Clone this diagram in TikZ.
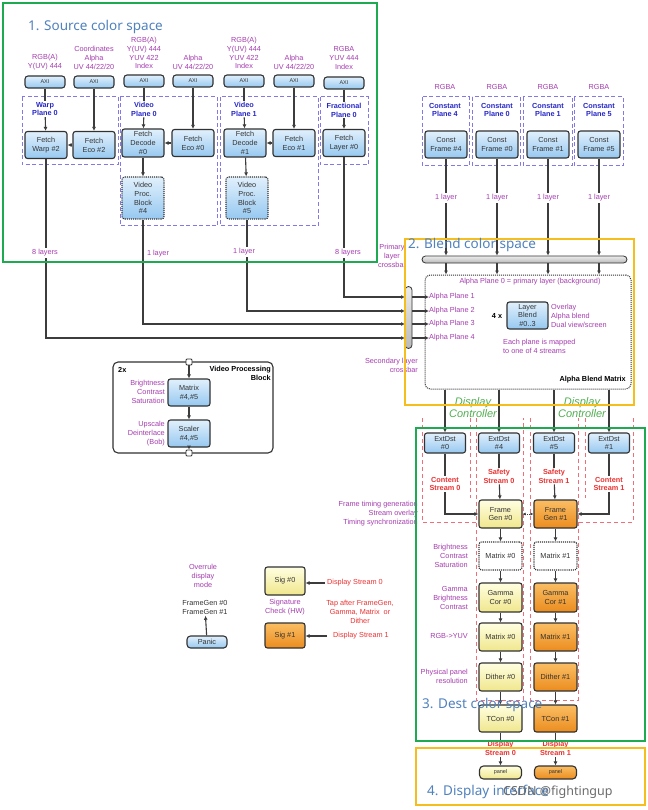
\documentclass[tikz,border=0pt]{standalone}
\usepackage{fontspec}
\setmainfont{Liberation Sans}
\newfontfamily\titlefont{Noto Sans}
\usetikzlibrary{arrows.meta}
\definecolor{pur}{RGB}{165,60,175}
\definecolor{bluet}{RGB}{40,40,200}
\definecolor{grpc}{RGB}{130,120,230}
\definecolor{redt}{RGB}{235,50,50}
\definecolor{redd}{RGB}{240,110,120}
\definecolor{ttl}{RGB}{80,130,190}
\definecolor{grn}{RGB}{30,170,80}
\definecolor{gld}{RGB}{245,190,30}
\definecolor{dcg}{RGB}{80,175,80}
\definecolor{bdr}{RGB}{50,50,50}
\definecolor{lnc}{RGB}{60,60,60}
\definecolor{blueT}{RGB}{225,240,252}
\definecolor{blueB}{RGB}{150,200,240}
\definecolor{yelT}{RGB}{255,255,225}
\definecolor{yelB}{RGB}{240,230,140}
\definecolor{oraT}{RGB}{250,190,100}
\definecolor{oraB}{RGB}{235,140,30}
\newcommand\sz{\fontsize{7.3}{8.9}\selectfont}
\newcommand\ttsz{\titlefont\fontsize{13.5}{15}\selectfont}
\begin{document}
\begin{tikzpicture}[x=1pt,y=-1pt,
  box/.style={draw=bdr,line width=1.1pt,rounded corners=2.5pt,minimum width=42pt,minimum height=27pt,inner sep=0pt,align=center,font=\sz,text=black!80},
  bb/.style={box,top color=blueT,bottom color=blueB},
  yb/.style={box,top color=yelT,bottom color=yelB},
  ob/.style={box,top color=oraT,bottom color=oraB},
  wb/.style={box,fill=white,densely dotted},
  axi/.style={bb,minimum width=40pt,minimum height=12pt,rounded corners=3pt,font=\fontsize{5.5}{6}\selectfont},
  grp/.style={draw=grpc,line width=1pt,dash pattern=on 4pt off 2.5pt},
  lab/.style={font=\sz,text=pur,align=center,inner sep=0pt},
  blab/.style={font=\sz\bfseries,text=bluet,align=center,inner sep=1pt},
  rlab/.style={font=\sz\bfseries,text=redt,align=center,inner sep=1pt},
  con/.style={draw=lnc,line width=1.1pt},
  arr/.style={con,-{Latex[length=4pt,width=4pt]}},
  rd/.style={draw=redd,line width=0.9pt,dash pattern=on 4pt off 3pt},
  frm/.style={line width=2.4pt},
  bar/.style={draw=gray!40!black,line width=0.8pt,top color=gray!15,bottom color=gray!55,rounded corners=3.5pt,inner sep=0pt}]
\useasboundingbox (0,0) rectangle (647,810);
\fill[white] (0,0) rectangle (647,810);

% ---------- source groups ----------
\draw[grp] (22,97) rectangle (118,165);
\draw[grp] (120,97) rectangle (217,226);
\draw[grp] (220,97) rectangle (318,226);
\draw[grp] (320,97) rectangle (368,165);

\node[lab] (l1) at (45,62) {RGB(A)\\Y(UV) 444};
\node[lab] (l2) at (94,58) {Coordinates\\Alpha\\UV 44/22/20};
\node[lab] (l3) at (144,53) {RGB(A)\\Y(UV) 444\\YUV 422\\Index};
\node[lab] (l4) at (193,62) {Alpha\\UV 44/22/20};
\node[lab] (l5) at (244,53) {RGB(A)\\Y(UV) 444\\YUV 422\\Index};
\node[lab] (l6) at (294,62) {Alpha\\UV 44/22/20};
\node[lab] (l7) at (344,58) {RGBA\\YUV 444\\Index};

\node[axi] (a1) at (45,82) {AXI};
\node[axi] (a2) at (94,82) {AXI};
\node[axi] (a3) at (144,81) {AXI};
\node[axi] (a4) at (193,81) {AXI};
\node[axi] (a5) at (244,81) {AXI};
\node[axi] (a6) at (294,81) {AXI};
\node[axi] (a7) at (344,83) {AXI};

\node[blab] (p1) at (45,109) {Warp\\Plane 0};
\node[blab] (p3) at (144,109) {Video\\Plane 0};
\node[blab] (p5) at (244,109) {Video\\Plane 1};
\node[blab] (p7) at (344,110) {Fractional\\Plane 0};

\node[bb] (fw) at (46,145) {Fetch\\Warp \#2};
\node[bb] (fe2) at (94,145) {Fetch\\Eco \#2};
\node[bb,minimum height=28pt] (fd0) at (143,143) {Fetch\\Decode\\\#0};
\node[bb] (fe0) at (193,143) {Fetch\\Eco \#0};
\node[bb,minimum height=28pt] (fd1) at (245,143) {Fetch\\Decode\\\#1};
\node[bb] (fe1) at (294,143) {Fetch\\Eco \#1};
\node[bb] (fl0) at (344,143) {Fetch\\Layer \#0};
\node[bb,densely dotted,minimum height=42pt] (vp4) at (143,198) {Video\\Proc.\\Block\\\#4};
\node[bb,densely dotted,minimum height=42pt] (vp5) at (247,198) {Video\\Proc.\\Block\\\#5};

\draw[con] (a1) -- (p1); \draw[arr] (p1) -- (fw);
\draw[con] (a3) -- (p3); \draw[arr] (p3) -- (fd0);
\draw[con] (a5) -- (p5); \draw[arr] (p5) -- (fd1);
\draw[con] (a7) -- (p7); \draw[arr] (p7) -- (fl0);
\draw[arr] (a2) -- (fe2);
\draw[arr] (a4) -- (fe0);
\draw[arr] (a6) -- (fe1);
\draw[arr] (fe2) -- (fw);
\draw[arr] (fe0) -- (fd0);
\draw[arr] (fe1) -- (fd1);
\draw[arr] (fd0) -- (vp4);
\draw[arr] (fd1) -- (vp5);

% ---------- secondary crossbar ----------
\node[bar,minimum width=7pt,minimum height=62pt] (xbar) at (408.5,317.5) {};
\coordinate (c1) at (405,338);
\coordinate (c2) at (405,324);
\coordinate (c3) at (405,311);
\coordinate (c4) at (405,297);
\draw[arr] (fw) |- (c1);
\draw[arr] (vp4) |- (c2);
\draw[arr] (vp5) |- (c3);
\draw[arr] (fl0) |- (c4);
\node[lab,fill=white,inner sep=1.5pt] (n1) at (45,253) {8 layers};
\node[lab] (n2) at (158,254) {1 layer};
\node[lab,fill=white,inner sep=1.5pt] (n3) at (244,252) {1 layer};
\node[lab,fill=white,inner sep=1.5pt] (n4) at (348,253) {8 layers};

% ---------- constant planes ----------
\draw[grp] (422,97) rectangle (469,166);
\draw[grp] (472,97) rectangle (520,166);
\draw[grp] (523,97) rectangle (572,166);
\draw[grp] (574,97) rectangle (623,166);
\node[lab] (r4) at (445,87) {RGBA};
\node[lab] (r0) at (497,87) {RGBA};
\node[lab] (r1) at (548,87) {RGBA};
\node[lab] (r5) at (599,87) {RGBA};
\node[blab] (cp4) at (445,110) {Constant\\Plane 4};
\node[blab] (cp0) at (497,110) {Constant\\Plane 0};
\node[blab] (cp1) at (548,110) {Constant\\Plane 1};
\node[blab] (cp5) at (599,110) {Constant\\Plane 5};
\node[bb] (cf4) at (446,144.5) {Const\\Frame \#4};
\node[bb] (cf0) at (497,144.5) {Const\\Frame \#0};
\node[bb] (cf1) at (548,144.5) {Const\\Frame \#1};
\node[bb] (cf5) at (599,144.5) {Const\\Frame \#5};

\node[bar,minimum width=205pt,minimum height=7pt] (pbar) at (524.5,259.5) {};
\draw[arr] (cf4) -- (cf4 |- pbar.north);
\draw[arr] (cf0) -- (cf0 |- pbar.north);
\draw[arr] (cf1) -- (cf1 |- pbar.north);
\draw[arr] (cf5) -- (cf5 |- pbar.north);
\node[lab,fill=white,inner sep=1.5pt] (k4) at (446,198) {1 layer};
\node[lab,fill=white,inner sep=1.5pt] (k0) at (497,198) {1 layer};
\node[lab,fill=white,inner sep=1.5pt] (k1) at (548,198) {1 layer};
\node[lab,fill=white,inner sep=1.5pt] (k5) at (599,198) {1 layer};

% ---------- alpha blend matrix ----------
\node[draw=bdr,line width=1pt,densely dotted,rounded corners=5pt,minimum width=206pt,minimum height=114pt,inner sep=0pt] (abm) at (528,332) {};
\draw[arr] (cf4 |- pbar.south) -- (cf4 |- abm.north);
\draw[arr] (cf0 |- pbar.south) -- (cf0 |- abm.north);
\draw[arr] (cf1 |- pbar.south) -- (cf1 |- abm.north);
\draw[arr] (cf5 |- pbar.south) -- (cf5 |- abm.north);
\node[lab] (ap0) at (530,282) {Alpha Plane 0 = primary layer (background)};
\node[lab,anchor=west] (ap1) at (429,297) {Alpha Plane 1};
\node[lab,anchor=west] (ap2) at (429,311) {Alpha Plane 2};
\node[lab,anchor=west] (ap3) at (429,324) {Alpha Plane 3};
\node[lab,anchor=west] (ap4) at (429,338) {Alpha Plane 4};
\draw[arr] (xbar.east |- ap1) -- (ap1.west);
\draw[arr] (xbar.east |- ap2) -- (ap2.west);
\draw[arr] (xbar.east |- ap3) -- (ap3.west);
\draw[arr] (xbar.east |- ap4) -- (ap4.west);
\node[font=\sz\bfseries,inner sep=0pt] (fx) at (497,316) {4 x};
\node[bb,minimum width=41pt] (lb) at (527.5,315.5) {Layer\\Blend\\\#0..3};
\node[lab,anchor=west,align=left] (ov) at (551,315.5) {Overlay\\Alpha blend\\Dual view/screen};
\node[lab,anchor=west,align=left] (ep) at (503,346) {Each plane is mapped\\to one of 4 streams};
\node[font=\sz\bfseries,inner sep=0pt,anchor=east] (abt) at (626,380) {Alpha Blend Matrix};
\node[lab] (plc) at (392,256) {Primary\\layer\\crossbar};
\node[lab,anchor=east,align=right] (slc) at (418,365.5) {Secondary layer\\crossbar};

% ---------- display controller ----------
\node[bb,minimum width=41pt,minimum height=20pt] (e0) at (445,443) {ExtDst\\\#0};
\node[bb,minimum width=41pt,minimum height=20pt] (e4) at (499,443) {ExtDst\\\#4};
\node[bb,minimum width=41pt,minimum height=20pt] (e5) at (554,443) {ExtDst\\\#5};
\node[bb,minimum width=41pt,minimum height=20pt] (e1) at (609,443) {ExtDst\\\#1};
\draw[arr] (e0 |- abm.south) -- (e0);
\draw[arr] (e4 |- abm.south) -- (e4);
\draw[arr] (e5 |- abm.south) -- (e5);
\draw[arr] (e1 |- abm.south) -- (e1);
\node[font=\fontsize{11}{12}\selectfont\itshape,text=dcg,align=center,inner sep=0pt] (dc1) at (473,408) {Display\\Controller};
\node[font=\fontsize{11}{12}\selectfont\itshape,text=dcg,align=center,inner sep=0pt] (dc2) at (582,408) {Display\\Controller};

% red dashed stream columns
\draw[rd] (422,418) -- (422,522) -- (476,522);
\draw[rd] (470,418) -- (470,498);
\draw[rd] (476,418) -- (476,700) -- (523,700) -- (523,418);
\draw[rd] (530,418) -- (530,700) -- (578,700) -- (578,418);
\draw[rd] (585,418) -- (585,498);
\draw[rd] (633,418) -- (633,522) -- (578,522);

\node[rlab] (s0) at (445,484) {Content\\Stream 0};
\node[rlab] (ss0) at (499,476) {Safety\\Stream 0};
\node[rlab] (ss1) at (554,476) {Safety\\Stream 1};
\node[rlab] (s1) at (609,484) {Content\\Stream 1};

\node[yb,minimum width=43pt,minimum height=28pt] (fg0) at (500.5,514) {Frame\\Gen \#0};
\node[ob,minimum width=43pt,minimum height=28pt] (fg1) at (555.5,514) {Frame\\Gen \#1};
\draw[con] (e0) -- (s0); \draw[arr] (s0) |- (fg0);
\draw[con] (e4) -- (ss0); \draw[arr] (ss0) -- (fg0);
\draw[con] (e5) -- (ss1); \draw[arr] (ss1) -- (fg1);
\draw[con] (e1) -- (s1); \draw[arr] (s1) |- (fg1);
\draw[draw=lnc,line width=0.8pt,densely dotted,{Latex[length=3pt,width=3pt]}-{Latex[length=3pt,width=3pt]}] (fg0) -- (fg1);

\node[wb,minimum width=43pt,minimum height=28pt] (m0) at (500.5,556) {Matrix \#0};
\node[wb,minimum width=43pt,minimum height=28pt] (m1) at (555.5,556) {Matrix \#1};
\node[yb,minimum width=43pt,minimum height=29pt] (gc0) at (500.5,597.5) {Gamma\\Cor \#0};
\node[ob,minimum width=43pt,minimum height=29pt] (gc1) at (555.5,597.5) {Gamma\\Cor \#1};
\node[yb,minimum width=43pt,minimum height=28pt] (mm0) at (500.5,637) {Matrix \#0};
\node[ob,minimum width=43pt,minimum height=28pt] (mm1) at (555.5,637) {Matrix \#1};
\node[yb,minimum width=43pt,minimum height=28pt] (d0) at (500.5,677) {Dither \#0};
\node[ob,minimum width=43pt,minimum height=28pt] (d1) at (555.5,677) {Dither \#1};
\node[yb,minimum width=43pt,minimum height=27pt] (t0) at (500.5,718.5) {TCon \#0};
\node[ob,minimum width=43pt,minimum height=27pt] (t1) at (555.5,718.5) {TCon \#1};
\draw[arr] (fg0) -- (m0); \draw[arr] (m0) -- (gc0); \draw[arr] (gc0) -- (mm0); \draw[arr] (mm0) -- (d0); \draw[arr] (d0) -- (t0);
\draw[arr] (fg1) -- (m1); \draw[arr] (m1) -- (gc1); \draw[arr] (gc1) -- (mm1); \draw[arr] (mm1) -- (d1); \draw[arr] (d1) -- (t1);

\node[lab,anchor=east,align=right] (ftg) at (418,514) {Frame timing generation\\Stream overlay\\Timing synchronization};
\node[lab,anchor=east,align=right] (bcs) at (468,556) {Brightness\\Contrast\\Saturation};
\node[lab,anchor=east,align=right] (gbc) at (468,598) {Gamma\\Brightness\\Contrast};
\node[lab,anchor=east,align=right] (ryv) at (468,636) {RGB->YUV};
\node[lab,anchor=east,align=right] (ppr) at (468,676.5) {Physical panel\\resolution};

% ---------- display interface ----------
\node[rlab] (ds0) at (500.5,748.5) {Display\\Stream 0};
\node[rlab] (ds1) at (555.5,748.5) {Display\\Stream 1};
\node[yb,minimum width=42pt,minimum height=13pt,rounded corners=4pt,font=\fontsize{5.5}{6}\selectfont] (pn0) at (500.5,772.5) {panel};
\node[ob,minimum width=42pt,minimum height=13pt,rounded corners=4pt,font=\fontsize{5.5}{6}\selectfont] (pn1) at (555.5,772.5) {panel};
\draw[con] (t0) -- (ds0); \draw[arr] (ds0) -- (pn0);
\draw[con] (t1) -- (ds1); \draw[arr] (ds1) -- (pn1);

% ---------- video processing block ----------
\node[draw=bdr,line width=1.1pt,rounded corners=5pt,minimum width=160pt,minimum height=91pt,inner sep=0pt] (vpb) at (193,407.5) {};
\node[draw=bdr,line width=0.8pt,fill=white,minimum size=6pt,inner sep=0pt,rounded corners=1pt] (pt) at (189,362) {};
\node[draw=bdr,line width=0.8pt,fill=white,minimum size=6pt,inner sep=0pt,rounded corners=1pt] (pb) at (189,453) {};
\node[font=\sz\bfseries,anchor=west,inner sep=0pt] (twox) at (118,370) {2x};
\node[font=\sz\bfseries,anchor=north east,align=right,inner sep=0pt] (vpt) at (271,366) {Video Processing\\Block};
\node[bb] (mx) at (189,392.5) {Matrix\\\#4,\#5};
\node[bb] (sc) at (189,433.5) {Scaler\\\#4,\#5};
\draw[arr] (pt) -- (mx); \draw[arr] (mx) -- (sc); \draw[arr] (sc) -- (pb);
\node[lab,anchor=east,align=right] (vbl1) at (165,392) {Brightness\\Contrast\\Saturation};
\node[lab,anchor=east,align=right] (vbl2) at (165,434) {Upscale\\Deinterlace\\(Bob)};

% ---------- signature / panic ----------
\node[lab] (ovr) at (203,576) {Overrule\\display\\mode};
\node[font=\sz,align=center,inner sep=1pt,text=black!80] (fgt) at (205,607.5) {FrameGen \#0\\FrameGen \#1};
\node[bb,minimum width=40pt,minimum height=12pt,rounded corners=3.5pt] (panic) at (207,642) {Panic};
\draw[arr] (panic) -- (fgt);
\node[yb,minimum width=40pt,minimum height=28pt] (sig0) at (285,581) {Sig \#0};
\node[ob,minimum width=40pt,minimum height=25pt] (sig1) at (285,635.5) {Sig \#1};
\node[lab] (sgc) at (285,607.5) {Signature\\Check (HW)};
\node[font=\sz,text=redt,anchor=west,inner sep=2pt] (dsl0) at (325,583) {Display Stream 0};
\node[font=\sz,text=redt,anchor=west,inner sep=2pt] (dsl1) at (331,636) {Display Stream 1};
\node[font=\sz,text=redt,align=center,inner sep=0pt] (tap) at (360,612) {Tap after FrameGen,\\Gamma, Matrix\ \ or\\Dither};
\draw[arr] (dsl0.west) -- (sig0.east |- dsl0.west);
\draw[arr] ([xshift=-4pt]dsl1.west) -- (sig1.east |- dsl1.west);

% ---------- frames and titles ----------
\draw[frm,grn] (3,3) rectangle (377,262);
\draw[frm,gld] (405,239) rectangle (634,405);
\draw[frm,grn] (416,428) rectangle (645,741);
\draw[frm,gld] (416,748) rectangle (645,805);
\node[font=\ttsz,text=ttl,anchor=west,inner sep=0pt] (t1t) at (28,27) {1. Source color space};
\node[font=\ttsz,text=ttl,anchor=west,inner sep=0pt] (t2t) at (408,245) {2. Blend color space};
\node[font=\ttsz,text=ttl,anchor=west,inner sep=0pt] (t3t) at (422,705) {3. Dest color space};
\node[font=\ttsz,text=ttl,anchor=west,inner sep=0pt] (t4t) at (427,792) {4. Display interface};
\node[font=\titlefont\fontsize{12.5}{14}\selectfont,text=gray!85!black,anchor=west,inner sep=0pt] (wm) at (503,792) {CSDN @fightingup};
\end{tikzpicture}
\end{document}
